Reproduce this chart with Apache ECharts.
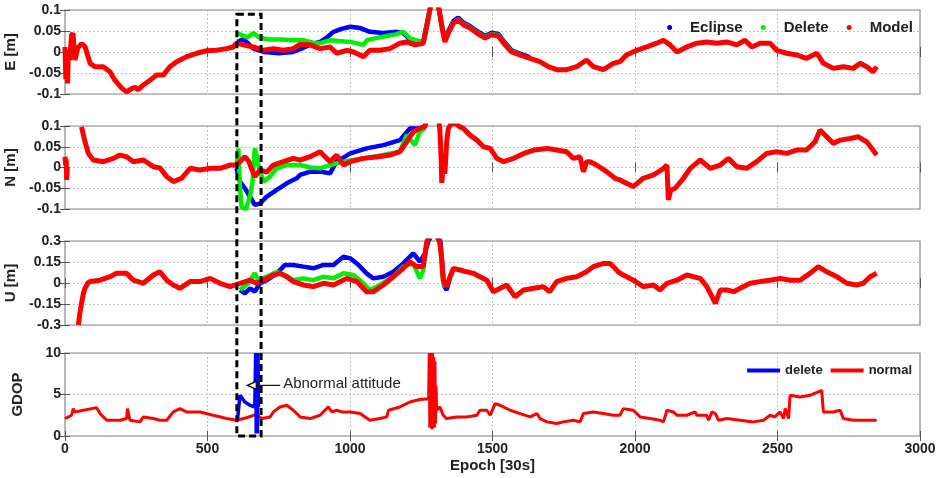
<!DOCTYPE html>
<html><head><meta charset="utf-8">
<script src="https://cdn.jsdelivr.net/npm/echarts/dist/echarts.min.js"></script>
<style>html,body{margin:0;padding:0;background:#fff}#c{width:938px;height:478px}</style>
</head><body><div id="c"></div>
<script>
// ---------------- DATA ----------------
const E_ECLIPSE = [[605,0.024],[626,0.031],[661,0.008],[700,0.0],[750,-0.003],[800,0.0],[836,0.01],[870,0.02],[895,0.024],[920,0.035],[942,0.048],[970,0.055],[1001,0.06],[1036,0.057],[1070,0.048],[1117,0.045],[1164,0.048],[1187,0.045],[1210,0.03],[1240,0.025],[1257,0.025],[1269,0.065],[1280,0.1],[1290,0.13],[1300,0.13],[1313,0.1],[1322,0.065],[1333,0.03],[1345,0.05],[1363,0.074],[1380,0.082],[1398,0.07],[1421,0.062],[1445,0.05],[1474,0.038],[1497,0.046],[1520,0.043],[1544,0.022],[1567,0.004],[1596,-0.004],[1631,-0.012]];
const E_DELETE = [[605,0.045],[620,0.04],[640,0.035],[661,0.045],[680,0.035],[710,0.03],[760,0.03],[800,0.028],[836,0.028],[870,0.022],[895,0.021],[930,0.028],[960,0.026],[1001,0.024],[1047,0.017],[1060,0.028],[1090,0.033],[1129,0.038],[1160,0.042],[1187,0.048],[1210,0.033],[1240,0.026],[1257,0.024],[1269,0.06],[1280,0.1],[1290,0.13],[1300,0.13],[1313,0.1],[1322,0.065],[1333,0.028],[1345,0.047],[1363,0.07],[1380,0.078],[1398,0.067],[1421,0.059],[1445,0.047],[1474,0.035],[1497,0.043],[1520,0.04],[1544,0.019],[1567,0.002],[1596,-0.006]];
const E_MODEL = [[0,0.012],[3,-0.065],[6,-0.01],[9,-0.075],[12,0.005],[16,-0.02],[23,0.04],[28,0.045],[35,-0.019],[45,0.01],[58,0.02],[70,0.013],[88,-0.027],[105,-0.035],[134,-0.035],[158,-0.047],[175,-0.067],[199,-0.086],[216,-0.095],[234,-0.087],[246,-0.084],[257,-0.09],[274,-0.079],[298,-0.067],[322,-0.055],[345,-0.055],[368,-0.035],[392,-0.023],[427,-0.011],[462,-0.003],[497,0.003],[532,0.004],[567,0.008],[590,0.012],[602,0.021],[626,0.017],[661,0.012],[696,0.004],[731,0.008],[766,0.004],[801,0.008],[825,0.018],[860,0.017],[895,0.008],[930,0.012],[953,-0.003],[989,0.004],[1012,0.0],[1047,-0.011],[1070,0.004],[1105,0.004],[1140,0.008],[1175,0.021],[1199,0.024],[1228,0.017],[1257,0.021],[1269,0.06],[1280,0.1],[1290,0.13],[1300,0.13],[1313,0.1],[1322,0.06],[1333,0.024],[1345,0.045],[1363,0.069],[1380,0.076],[1398,0.065],[1421,0.057],[1445,0.045],[1474,0.033],[1497,0.041],[1520,0.038],[1544,0.017],[1567,0.0],[1596,-0.007],[1631,-0.015],[1666,-0.023],[1696,-0.035],[1725,-0.042],[1760,-0.042],[1795,-0.035],[1830,-0.019],[1854,-0.035],[1889,-0.042],[1924,-0.027],[1947,-0.023],[1970,-0.007],[2006,0.004],[2041,0.012],[2076,0.021],[2100,0.028],[2123,0.017],[2147,0.0],[2182,0.012],[2217,0.021],[2252,0.024],[2287,0.021],[2322,0.024],[2357,0.017],[2386,0.028],[2410,0.012],[2439,0.021],[2474,0.021],[2497,0.004],[2532,-0.003],[2567,-0.007],[2602,-0.015],[2638,-0.003],[2661,-0.027],[2696,-0.039],[2731,-0.035],[2766,-0.039],[2790,-0.027],[2813,-0.035],[2836,-0.047],[2848,-0.035]];

const N_ECLIPSE = [[602,-0.002],[614,-0.034],[631,-0.05],[649,-0.07],[666,-0.09],[684,-0.087],[708,-0.07],[743,-0.054],[778,-0.038],[813,-0.026],[825,-0.018],[860,-0.01],[895,-0.01],[930,-0.014],[953,0.014],[1001,0.034],[1058,0.046],[1117,0.054],[1175,0.066],[1210,0.094],[1245,0.094],[1263,0.1]];
const N_DELETE = [[602,0.002],[608,0.046],[614,-0.05],[620,-0.095],[635,-0.1],[649,-0.07],[658,-0.034],[666,0.046],[672,0.03],[678,0.006],[696,-0.034],[719,-0.022],[743,-0.002],[778,0.006],[825,0.006],[860,0.0],[895,-0.002],[930,0.006],[977,0.014],[1047,0.022],[1117,0.03],[1175,0.038],[1199,0.078],[1228,0.054],[1245,0.086],[1263,0.095]];
const N_MODEL = [[0,0.026],[2,0.006],[4,0.02],[6,-0.03],[8,0.0],[20,'-'],[58,0.098],[64,0.08],[70,0.062],[82,0.034],[99,0.018],[134,0.014],[170,0.022],[193,0.03],[216,0.026],[240,0.014],[275,0.018],[310,0.002],[333,-0.001],[357,-0.022],[380,-0.034],[409,-0.026],[439,-0.002],[474,-0.006],[509,-0.002],[544,-0.002],[579,0.006],[602,0.006],[631,0.026],[645,0.015],[654,-0.002],[666,-0.022],[684,-0.006],[708,-0.011],[731,0.006],[766,0.014],[801,0.022],[825,0.018],[860,0.026],[895,0.038],[930,0.014],[953,0.03],[977,0.006],[1001,0.014],[1047,0.022],[1100,0.026],[1140,0.03],[1175,0.038],[1199,0.062],[1222,0.086],[1245,0.094],[1263,0.098],[1270,0.12],[1290,'-'],[1310,0.12],[1315,0.094],[1320,0.02],[1322,-0.037],[1327,0.0],[1333,-0.015],[1339,0.06],[1345,0.094],[1360,0.11],[1386,0.098],[1398,0.094],[1421,0.078],[1445,0.066],[1468,0.05],[1492,0.046],[1515,0.022],[1539,0.014],[1574,0.022],[1610,0.034],[1645,0.042],[1691,0.046],[1725,0.042],[1760,0.038],[1784,0.022],[1807,0.026],[1819,-0.01],[1830,0.014],[1842,0.014],[1865,0.006],[1900,-0.01],[1930,-0.026],[1947,-0.03],[1970,-0.038],[1994,-0.046],[2029,-0.026],[2065,-0.018],[2100,-0.002],[2112,0.006],[2117,-0.078],[2125,-0.055],[2141,-0.05],[2170,-0.026],[2194,-0.002],[2229,0.018],[2264,-0.002],[2299,0.006],[2328,0.022],[2357,0.002],[2392,-0.002],[2427,0.014],[2462,0.034],[2497,0.038],[2532,0.034],[2567,0.042],[2602,0.042],[2632,0.062],[2649,0.09],[2673,0.074],[2696,0.058],[2720,0.066],[2755,0.07],[2784,0.074],[2813,0.062],[2831,0.046],[2848,0.03]];

const U_ECLIPSE = [[614,-0.05],[631,-0.074],[649,-0.038],[666,-0.062],[684,-0.002],[708,0.02],[743,0.069],[772,0.129],[801,0.129],[836,0.117],[871,0.105],[907,0.129],[942,0.129],[977,0.188],[1001,0.176],[1030,0.129],[1058,0.069],[1082,0.033],[1117,0.045],[1152,0.08],[1187,0.14],[1222,0.212],[1245,0.152],[1263,0.21],[1275,0.3],[1290,0.35],[1310,0.35],[1318,0.29],[1325,0.1],[1330,-0.02],[1339,-0.05],[1351,0.04],[1363,0.1]];
const U_DELETE = [[614,-0.05],[643,-0.002],[666,0.069],[678,0.02],[708,0.045],[743,0.08],[772,0.057],[801,0.02],[836,0.033],[871,0.02],[907,0.045],[942,0.033],[977,0.069],[1012,0.057],[1047,-0.002],[1070,-0.05],[1105,-0.014],[1152,0.045],[1187,0.117],[1222,0.14],[1245,0.033],[1257,0.093],[1269,0.29],[1280,0.35],[1310,0.35],[1318,0.25],[1325,0.05],[1333,-0.03]];
const U_MODEL = [[47,-0.3],[52,-0.22],[58,-0.145],[64,-0.08],[70,-0.038],[80,0.0],[88,0.01],[123,0.02],[158,0.045],[181,0.069],[216,0.069],[240,0.02],[275,-0.002],[310,0.057],[333,0.08],[357,0.02],[380,-0.014],[403,-0.038],[439,0.01],[474,0.01],[509,0.033],[544,-0.002],[579,-0.026],[614,-0.002],[649,0.02],[672,-0.002],[696,0.02],[731,0.057],[754,0.069],[778,0.045],[801,0.01],[836,-0.014],[871,-0.026],[907,-0.002],[942,-0.014],[989,0.033],[1024,0.01],[1058,-0.062],[1082,-0.062],[1117,-0.014],[1152,0.045],[1187,0.105],[1210,0.152],[1234,0.117],[1257,0.117],[1269,0.29],[1280,0.35],[1300,0.35],[1315,0.29],[1322,0.164],[1327,0.02],[1339,-0.026],[1351,0.045],[1363,0.105],[1386,0.093],[1409,0.08],[1433,0.069],[1456,0.045],[1480,0.02],[1503,-0.062],[1527,-0.038],[1550,-0.014],[1579,-0.098],[1609,-0.05],[1645,-0.038],[1678,-0.026],[1701,-0.062],[1725,0.01],[1760,0.033],[1795,0.045],[1830,0.08],[1854,0.117],[1889,0.14],[1912,0.14],[1924,0.117],[1941,0.08],[1959,0.057],[1994,0.02],[2029,-0.026],[2065,-0.014],[2088,-0.05],[2112,-0.002],[2147,0.02],[2182,0.057],[2205,0.045],[2229,0.033],[2252,-0.026],[2270,-0.098],[2282,-0.145],[2299,-0.05],[2322,-0.05],[2346,-0.062],[2369,-0.038],[2404,-0.002],[2439,0.01],[2474,0.02],[2509,0.033],[2544,0.02],[2579,0.02],[2614,0.069],[2643,0.117],[2673,0.08],[2708,0.045],[2743,-0.002],[2778,-0.014],[2801,-0.002],[2825,0.045],[2848,0.069]];

const GDOP_DELETE = [[605,1.9],[614,4.9],[631,4.1],[649,3.7],[666,3.5],[669,10],[671,0.3],[673,10],[675,0.3],[677,10],[679,3.5]];
const GDOP_NORMAL = [[0,2.1],[23,2.5],[29,3.3],[35,2.9],[64,3.1],[93,3.3],[111,3.4],[123,2.7],[146,1.9],[193,1.9],[216,2.1],[219,3.3],[225,3.3],[228,1.9],[263,1.7],[275,2.3],[310,2.1],[333,1.9],[357,1.9],[380,2.9],[403,3.3],[427,2.9],[474,2.9],[520,2.5],[567,2.1],[602,1.9],[637,2.2],[672,2.6],[690,2.1],[720,2.3],[731,2.9],[754,3.5],[778,3.7],[801,3.1],[825,2.3],[860,2.1],[895,2.5],[912,3.1],[924,3.5],[936,2.9],[953,3.1],[971,2.9],[1001,2.9],[1036,2.7],[1053,2.3],[1070,1.9],[1105,2.1],[1129,2.3],[1135,3.1],[1175,3.5],[1210,4.1],[1245,4.4],[1276,4.5],[1278,10],[1280,1],[1282,10],[1284,1.2],[1286,10],[1288,0.8],[1290,10],[1292,1],[1294,9.5],[1296,1],[1298,9],[1300,1.5],[1302,6],[1304,3.1],[1316,3.5],[1327,2.5],[1339,2.1],[1374,2.3],[1409,2.3],[1445,2.5],[1456,3.1],[1480,3.1],[1492,2.5],[1509,3.9],[1527,3.7],[1562,3.1],[1597,2.7],[1632,2.3],[1656,2.7],[1667,2.1],[1691,1.7],[1725,1.5],[1748,1.7],[1784,1.9],[1807,1.7],[1819,2.7],[1854,2.9],[1889,2.7],[1924,2.5],[1947,2.5],[1959,3.3],[1994,3.1],[2018,2.3],[2053,2.1],[2088,1.9],[2100,1.7],[2112,3.1],[2135,2.9],[2147,2.5],[2182,2.5],[2211,2.9],[2217,2.5],[2252,2.5],[2258,1.9],[2270,2.9],[2282,2.7],[2293,1.9],[2322,2.1],[2369,1.9],[2416,1.7],[2451,1.9],[2474,2.5],[2490,2.3],[2509,2.9],[2521,2.1],[2527,3.3],[2539,2.1],[2544,4.9],[2579,4.7],[2614,4.9],[2655,5.5],[2661,2.9],[2696,2.9],[2720,3.1],[2731,2.1],[2766,1.9],[2813,1.9],[2848,1.9]];

const X_RANGE = [0, 3000, 500];
const Y_NAMES = ['E [m]', 'N [m]', 'U [m]', 'GDOP'];
const Y_RANGES = [[-0.1, 0.1, 0.05], [-0.1, 0.1, 0.05], [-0.3, 0.3, 0.15], [0, 10, 5]];
const X_NAME = 'Epoch [30s]';
const LEGEND_TOP = ['Eclipse', 'Delete', 'Model'];
const LEGEND_BOTTOM = ['delete', 'normal'];
const BOX = { x0: 603, x1: 688, yTop: 0.09, yBottom: 0 };
const NOTE = { text: 'Abnormal attitude', tip: 640, tail: 755, y: 6.1 };

// ---------------- CHART ----------------
const FONT = "'Liberation Sans', Arial, Helvetica, sans-serif";
const chart = echarts.init(document.getElementById('c'), null, { renderer: 'canvas' });
const gridPos = [{ top: 10, height: 84 }, { top: 126, height: 83 }, { top: 241, height: 84 }, { top: 353, height: 83 }];
const grids = gridPos.map(g => ({ left: 65, right: 18, top: g.top, height: g.height, show: true, borderColor: '#8a8a8a', borderWidth: 1.2, backgroundColor: '#fff', containLabel: false, outerBoundsMode: 'none' }));

const plain = v => String(+v.toFixed(4));
const split = { show: true, lineStyle: { color: '#b0b0b0', type: [1.5, 2.5], width: 1 } };
const tick = { show: true, inside: true, length: 5, lineStyle: { color: '#555', width: 1 } };
const xAxes = [], yAxes = [];
for (let i = 0; i < 4; i++) {
  xAxes.push({
    type: 'value', gridIndex: i, min: X_RANGE[0], max: X_RANGE[1], interval: X_RANGE[2],
    axisLine: { show: false }, axisTick: tick, splitLine: split,
    axisLabel: { show: i === 3, margin: 6, color: '#222', fontFamily: FONT, fontWeight: 'bold', fontSize: 14, formatter: plain },
    name: i === 3 ? X_NAME : '', nameLocation: 'middle', nameGap: 22,
    nameTextStyle: { color: '#222', fontFamily: FONT, fontWeight: 'bold', fontSize: 15 }
  });
  const r = Y_RANGES[i];
  yAxes.push({
    type: 'value', gridIndex: i, min: r[0], max: r[1], interval: r[2],
    axisLine: { show: false }, axisTick: tick, splitLine: split,
    axisLabel: { margin: 4, color: '#222', fontFamily: FONT, fontWeight: 'bold', fontSize: 14, showMinLabel: true, showMaxLabel: true, formatter: plain },
    name: Y_NAMES[i], nameLocation: 'middle', nameGap: 40, nameRotate: 90,
    nameTextStyle: { color: '#222', fontFamily: FONT, fontWeight: 'bold', fontSize: 15 }
  });
}
// mirror axes for ticks on top/right
for (let i = 0; i < 4; i++) {
  const r = Y_RANGES[i];
  xAxes.push({ type: 'value', gridIndex: i, position: 'top', min: X_RANGE[0], max: X_RANGE[1], interval: X_RANGE[2],
    axisLine: { show: false }, axisTick: tick, splitLine: { show: false }, axisLabel: { show: false } });
  yAxes.push({ type: 'value', gridIndex: i, position: 'right', min: r[0], max: r[1], interval: r[2],
    axisLine: { show: false }, axisTick: tick, splitLine: { show: false }, axisLabel: { show: false } });
}

const BLUE = '#0000ff', GREEN = '#00ee00', RED = '#ff0000';
function ser(name, data, color, idx, w) {
  return { type: 'line', name, data, xAxisIndex: idx, yAxisIndex: idx, showSymbol: false, symbol: 'circle', symbolSize: 4,
    lineStyle: { color, width: w }, itemStyle: { color }, animation: false, silent: true, clip: true, z: 3 };
}
const series = [
  ser('Eclipse', E_ECLIPSE, BLUE, 0, 4.5), ser('Delete', E_DELETE, GREEN, 0, 4.5), ser('Model', E_MODEL, RED, 0, 5),
  ser('Eclipse', N_ECLIPSE, BLUE, 1, 4.5), ser('Delete', N_DELETE, GREEN, 1, 4.5), ser('Model', N_MODEL, RED, 1, 5),
  ser('Eclipse', U_ECLIPSE, BLUE, 2, 4.5), ser('Delete', U_DELETE, GREEN, 2, 4.5), ser('Model', U_MODEL, RED, 2, 5),
  ser('normal', GDOP_NORMAL, RED, 3, 3), ser('delete', GDOP_DELETE, BLUE, 3, 3.5)
];

const legTxt = { color: '#222', fontFamily: FONT, fontWeight: 'bold', fontSize: 15 };
chart.setOption({
  animation: false,
  backgroundColor: '#fff',
  grid: grids, xAxis: xAxes, yAxis: yAxes, series,
  legend: [
    { data: LEGEND_TOP, top: 15, right: 20, icon: 'circle', itemWidth: 5, itemHeight: 5, itemGap: 18,
      textStyle: Object.assign({ padding: [0, 0, 0, 13] }, legTxt), selectedMode: false },
    { data: LEGEND_BOTTOM, top: 359, right: 21, icon: 'rect', itemWidth: 33, itemHeight: 4, itemGap: 8,
      textStyle: Object.assign({}, legTxt, { fontSize: 13 }), selectedMode: false }
  ]
});

function drawAnnotations() {
  const p1 = chart.convertToPixel({ xAxisIndex: 0, yAxisIndex: 0 }, [BOX.x0, BOX.yTop]);
  const p2 = chart.convertToPixel({ xAxisIndex: 3, yAxisIndex: 3 }, [BOX.x1, BOX.yBottom]);
  const tip = chart.convertToPixel({ xAxisIndex: 3, yAxisIndex: 3 }, [NOTE.tip, NOTE.y]);
  const tail = chart.convertToPixel({ xAxisIndex: 3, yAxisIndex: 3 }, [NOTE.tail, NOTE.y]);
  chart.setOption({
    graphic: [
      { type: 'rect', z: 100, shape: { x: p1[0], y: p1[1], width: p2[0] - p1[0], height: p2[1] - p1[1] },
        style: { fill: 'none', stroke: '#000', lineWidth: 3, lineDash: [7, 4] } },
      { type: 'line', z: 101, shape: { x1: tip[0] + 8, y1: tip[1], x2: tail[0], y2: tail[1] }, style: { stroke: '#111', lineWidth: 1.2 } },
      { type: 'polygon', z: 101, shape: { points: [[tip[0], tip[1]], [tip[0] + 9, tip[1] - 4], [tip[0] + 9, tip[1] + 4]] },
        style: { fill: '#fff', stroke: '#111', lineWidth: 1.5 } },
      { type: 'text', z: 101, left: tail[0] + 3, top: tail[1] - 9,
        style: { text: NOTE.text, fill: '#222', font: '15px ' + FONT } }
    ]
  });
}
drawAnnotations();
</script>
</body></html>
